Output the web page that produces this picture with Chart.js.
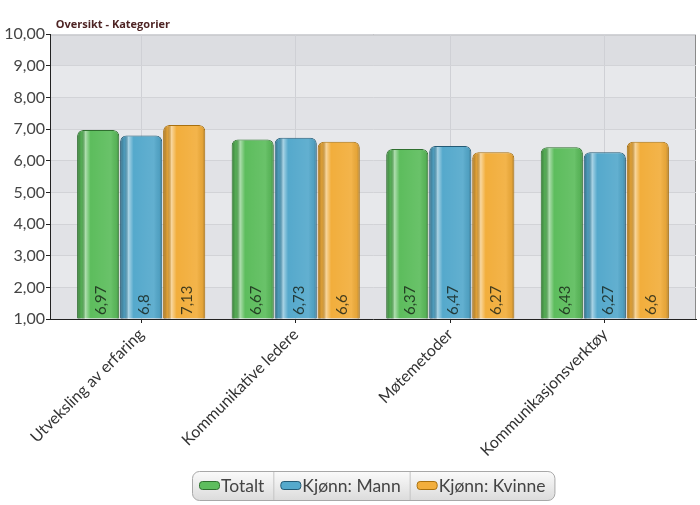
<!DOCTYPE html>
<html lang="no">
<head>
    <meta charset="UTF-8">
    <title>Oversikt - Kategorier</title>
    <script src="https://cdn.jsdelivr.net/npm/chart.js"></script>
    <style>
        body { margin: 0; background: #fff; }
        #wrap { width: 700px; height: 505px; }
    </style>
</head>
<body>
    <div id="wrap"><canvas id="chart"></canvas></div>

    <script>
        // Data
        const categories = ['Utveksling av erfaring', 'Kommunikative ledere', 'Møtemetoder', 'Kommunikasjonsverktøy'];
        const seriesNames = ['Totalt', 'Kjønn: Mann', 'Kjønn: Kvinne'];
        const totalt = [6.97, 6.67, 6.37, 6.43];
        const mann = [6.8, 6.73, 6.47, 6.27];
        const kvinne = [7.13, 6.6, 6.27, 6.6];
        const yTicks = [1, 2, 3, 4, 5, 6, 7, 8, 9, 10];

        const fills = ['#5dbd5d', '#55a9cc', '#f2ae3c'];
        const borders = ['#2f6f2f', '#245a75', '#a8700f'];

        const fmt = v => String(v).replace('.', ',');
        const fontFamily = 'Lato, "Open Sans", sans-serif';

        // plot background with soft horizontal bands
        const bgPlugin = {
            id: 'bg',
            beforeDraw(chart) {
                const { ctx, chartArea: a, scales: { y } } = chart;
                ctx.save();
                ctx.fillStyle = '#e4e5e8';
                ctx.fillRect(a.left, a.top, a.right - a.left, a.bottom - a.top);
                for (let i = 0; i < yTicks.length - 1; i++) {
                    const top = y.getPixelForValue(yTicks[i + 1]);
                    const bot = y.getPixelForValue(yTicks[i]);
                    ctx.fillStyle = i % 2 ? '#e7e8eb' : '#e1e2e6';
                    if (i === yTicks.length - 2) ctx.fillStyle = '#dcdde1';
                    ctx.fillRect(a.left, top, a.right - a.left, bot - top);
                }
                ctx.strokeStyle = '#8a8a8a';
                ctx.lineWidth = 1;
                ctx.beginPath();
                ctx.moveTo(a.left, a.top + 0.5);
                ctx.lineTo(a.right - 0.5, a.top + 0.5);
                ctx.lineTo(a.right - 0.5, a.bottom);
                ctx.stroke();
                ctx.restore();
            }
        };

        // glossy cylinder shading + rotated value labels
        const barPlugin = {
            id: 'bars',
            afterDatasetsDraw(chart) {
                const { ctx, chartArea: a } = chart;
                ctx.save();
                chart.data.datasets.forEach((ds, di) => {
                    const meta = chart.getDatasetMeta(di);
                    meta.data.forEach((el, i) => {
                        const left = el.x - el.width / 2;
                        const w = el.width;
                        const g = ctx.createLinearGradient(left, 0, left + w, 0);
                        g.addColorStop(0, 'rgba(0,0,0,0.35)');
                        g.addColorStop(0.1, 'rgba(0,0,0,0.08)');
                        g.addColorStop(0.2, 'rgba(255,255,255,0.5)');
                        g.addColorStop(0.32, 'rgba(255,255,255,0)');
                        g.addColorStop(0.8, 'rgba(255,255,255,0.08)');
                        g.addColorStop(0.93, 'rgba(0,0,0,0.05)');
                        g.addColorStop(1, 'rgba(0,0,0,0.28)');
                        ctx.fillStyle = g;
                        ctx.beginPath();
                        ctx.roundRect(left + 1, el.y + 1, w - 2, a.bottom - el.y - 1, [5, 5, 0, 0]);
                        ctx.fill();

                        ctx.save();
                        ctx.translate(el.x + 3, a.bottom - 4);
                        ctx.rotate(-Math.PI / 2);
                        ctx.font = '15px ' + fontFamily;
                        ctx.fillStyle = 'rgba(20,30,20,0.8)';
                        ctx.textAlign = 'left';
                        ctx.textBaseline = 'middle';
                        ctx.fillText(fmt(ds.data[i].y), 0, 0);
                        ctx.restore();
                    });
                });
                ctx.restore();
            }
        };

        // boxed legend with separators
        const legendPlugin = {
            id: 'boxLegend',
            afterDraw(chart) {
                const { ctx, chartArea: a } = chart;
                ctx.save();
                ctx.font = '17.5px ' + fontFamily;
                const sw = 20, gap = 2, padL = 7, padR = 9;
                const widths = chart.data.datasets.map(ds => sw + gap + ctx.measureText(ds.label).width);
                const total = widths.reduce((s, w) => s + w, 0) + padL * widths.length + padR * widths.length;
                const x0 = Math.round((a.left + a.right) / 2 - total / 2);
                const y0 = 471, h = 29;
                const g = ctx.createLinearGradient(0, y0, 0, y0 + h);
                g.addColorStop(0, '#fbfbfb');
                g.addColorStop(1, '#dcdcdc');
                ctx.fillStyle = g;
                ctx.strokeStyle = '#a8a8a8';
                ctx.lineWidth = 1;
                ctx.beginPath();
                ctx.roundRect(x0 + 0.5, y0 + 0.5, total, h, 7);
                ctx.fill();
                ctx.stroke();

                let x = x0;
                chart.data.datasets.forEach((ds, di) => {
                    x += padL;
                    ctx.fillStyle = ds.backgroundColor;
                    ctx.strokeStyle = ds.borderColor;
                    ctx.beginPath();
                    ctx.roundRect(x + 0.5, y0 + 10.5, sw, 8, 3);
                    ctx.fill();
                    ctx.stroke();
                    ctx.fillStyle = '#444';
                    ctx.textBaseline = 'middle';
                    ctx.fillText(ds.label, x + sw + gap, y0 + h / 2 + 1);
                    x += widths[di] + padR;
                    if (di < chart.data.datasets.length - 1) {
                        ctx.strokeStyle = '#c4c4c4';
                        ctx.beginPath();
                        ctx.moveTo(x + 0.5, y0 + 1);
                        ctx.lineTo(x + 0.5, y0 + h);
                        ctx.stroke();
                    }
                });
                ctx.restore();
            }
        };

        const seriesData = [totalt, mann, kvinne];

        new Chart(document.getElementById('chart'), {
            type: 'bar',
            data: {
                datasets: seriesData.map((vals, s) => ({
                    label: seriesNames[s],
                    data: vals.map((v, i) => ({ x: i, y: v })),
                    backgroundColor: fills[s],
                    borderColor: borders[s],
                    borderWidth: 1,
                    borderSkipped: 'bottom',
                    borderRadius: { topLeft: 6, topRight: 6 },
                    base: 1,
                    categoryPercentage: 0.835,
                    barPercentage: 0.98
                }))
            },
            options: {
                responsive: true,
                maintainAspectRatio: false,
                animation: false,
                layout: { padding: { left: 0, right: 4, top: 0, bottom: 40 } },
                plugins: {
                    legend: { display: false },
                    tooltip: { enabled: false },
                    title: {
                        display: true,
                        text: '  Oversikt - Kategorier',
                        align: 'start',
                        fullSize: false,
                        color: '#4e2424',
                        font: { family: '"Open Sans", sans-serif', size: 11, weight: 'bold' },
                        padding: { top: 18, bottom: 3 }
                    }
                },
                scales: {
                    x: {
                        type: 'linear',
                        offset: false,
                        min: -0.59,
                        max: 3.59,
                        afterBuildTicks(scale) {
                            scale.ticks = categories.map((c, i) => ({ value: i }));
                        },
                        afterFit(scale) { scale.height = 146; },
                        grid: { offset: false, color: '#cfd0d5', tickColor: '#222', tickLength: 4, drawOnChartArea: true },
                        border: { color: '#222', width: 1 },
                        ticks: {
                            autoSkip: false,
                            minRotation: 45,
                            maxRotation: 45,
                            padding: 2,
                            color: '#333',
                            font: { family: fontFamily, size: 16 },
                            callback: v => categories[v]
                        }
                    },
                    y: {
                        min: 1,
                        max: 10,
                        afterBuildTicks(scale) {
                            scale.ticks = yTicks.map(v => ({ value: v }));
                        },
                        afterFit(scale) { scale.width = 50; },
                        grid: { color: '#d2d3d7', tickColor: '#222', tickLength: 4 },
                        border: { color: '#222', width: 1 },
                        ticks: {
                            padding: 1,
                            color: '#444',
                            font: { family: fontFamily, size: 16 },
                            callback: v => v.toFixed(2).replace('.', ',')
                        }
                    }
                }
            },
            plugins: [bgPlugin, barPlugin, legendPlugin]
        });
    </script>
</body>
</html>
